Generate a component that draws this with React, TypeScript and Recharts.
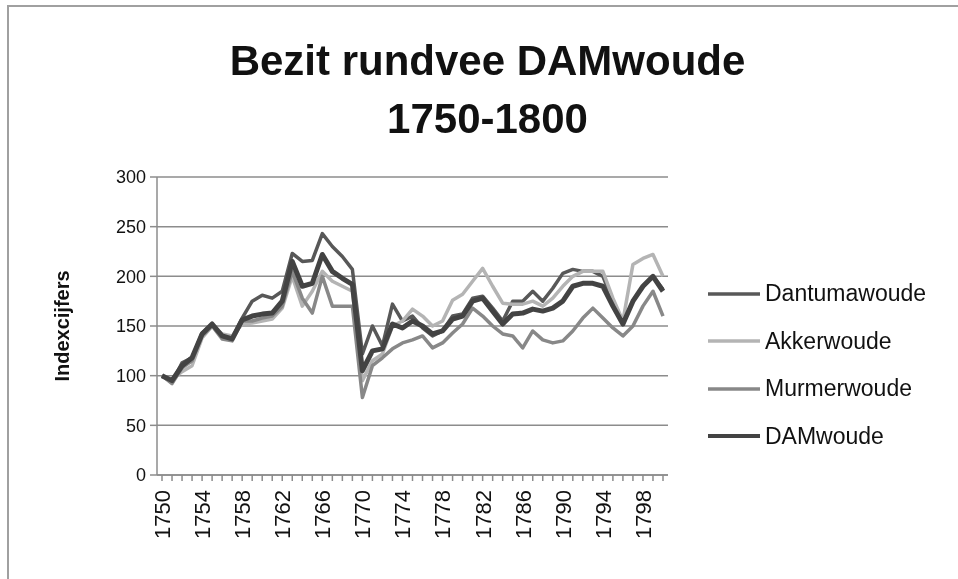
import React from 'react';
import { LineChart, Line, XAxis, YAxis, CartesianGrid, Legend } from 'recharts';

const years = [
  '1750','1751','1752','1753','1754','1755','1756','1757','1758','1759',
  '1760','1761','1762','1763','1764','1765','1766','1767','1768','1769',
  '1770','1771','1772','1773','1774','1775','1776','1777','1778','1779',
  '1780','1781','1782','1783','1784','1785','1786','1787','1788','1789',
  '1790','1791','1792','1793','1794','1795','1796','1797','1798','1799','1800',
];

const dantumawoude = [
  100, 93, 113, 118, 143, 152, 140, 138, 158, 175,
  181, 178, 185, 223, 215, 216, 243, 230, 220, 207,
  122, 150, 130, 172, 155, 160, 148, 140, 145, 160,
  162, 178, 180, 168, 155, 175, 175, 185, 175, 188,
  203, 207, 205, 205, 200, 175, 152, 175, 190, 200, 187,
];

const akkerwoude = [
  100, 96, 104, 110, 138, 150, 142, 140, 152, 153,
  155, 157, 168, 200, 170, 185, 205, 195, 190, 185,
  95, 115, 122, 150, 155, 167, 160, 150, 155, 176,
  182, 195, 208, 190, 173, 172, 172, 175, 170, 178,
  190, 200, 205, 205, 205, 178, 155, 212, 218, 222, 200,
];

const murmerwoude = [
  100, 92, 108, 115, 140, 150, 137, 135, 155, 155,
  158, 160, 170, 205, 178, 163, 200, 170, 170, 170,
  78, 110, 118, 127, 133, 136, 140, 128, 133, 143,
  152, 168, 160, 150, 142, 140, 128, 145, 136, 133,
  135, 145, 158, 168, 158, 148, 140, 150, 170, 185, 160,
];

const damwoude = [
  100, 95, 110, 118, 142, 152, 140, 137, 156, 160,
  162, 163, 175, 215, 190, 193, 222, 205, 198, 192,
  105, 125, 127, 152, 148, 155, 150, 142, 145, 157,
  160, 175, 178, 165, 152, 162, 163, 167, 165, 168,
  175, 190, 193, 193, 190, 170, 152, 175, 190, 200, 185,
];

const yTicks = [0, 50, 100, 150, 200, 250, 300];

const seriesInfo = [
  { key: 'Dantumawoude', color: '#585858', width: 3.5 },
  { key: 'Akkerwoude', color: '#b4b4b4', width: 3.5 },
  { key: 'Murmerwoude', color: '#888888', width: 3.5 },
  { key: 'DAMwoude', color: '#434343', width: 5 },
];

const data = years.map((y, i) => ({
  year: y,
  Dantumawoude: dantumawoude[i],
  Akkerwoude: akkerwoude[i],
  Murmerwoude: murmerwoude[i],
  DAMwoude: damwoude[i],
}));

const FONT = '"Liberation Sans", Arial, sans-serif';

const XTick = (props: any) => {
  const { x, y, index, payload } = props;
  if (index % 4 !== 0) return <g />;
  return (
    <text
      x={x}
      y={y}
      transform={`rotate(-90, ${x}, ${y})`}
      textAnchor="end"
      dy="0.36em"
      fontSize={22}
      fontFamily={FONT}
      fill="#111"
    >
      {payload.value}
    </text>
  );
};

const LegendContent = () => (
  <div style={{ fontFamily: FONT, fontSize: 23, color: '#111' }}>
    {seriesInfo.map((s) => (
      <div key={s.key} style={{ display: 'flex', alignItems: 'center', height: 47.5 }}>
        <svg width={52} height={8} style={{ marginRight: 5 }}>
          <line x1={0} y1={4} x2={52} y2={4} stroke={s.color} strokeWidth={Math.min(s.width, 4)} />
        </svg>
        <span>{s.key}</span>
      </div>
    ))}
  </div>
);

export default function App() {
  return (
    <div style={{ position: 'relative', width: 950, height: 571, fontFamily: FONT }}>
      <div
        style={{
          position: 'fixed',
          left: 7,
          top: 5,
          width: 960,
          height: 600,
          borderTop: '2px solid #a0a0a0',
          borderLeft: '2px solid #a0a0a0',
          boxSizing: 'border-box',
        }}
      />
      <div
        style={{
          position: 'absolute',
          left: 0,
          width: 959,
          top: 24,
          textAlign: 'center',
          fontWeight: 'bold',
          fontSize: 42,
          lineHeight: '58px',
          color: '#111',
        }}
      >
        <div>Bezit rundvee DAMwoude</div>
        <div>1750-1800</div>
      </div>
      <div
        style={{
          position: 'absolute',
          left: 54 - 70,
          top: 318 - 13,
          width: 140,
          height: 26,
          lineHeight: '26px',
          textAlign: 'center',
          fontWeight: 'bold',
          fontSize: 20,
          color: '#111',
          transform: 'rotate(-90deg)',
        }}
      >
        Indexcijfers
      </div>
      <LineChart
        width={950}
        height={571}
        data={data}
        margin={{ top: 169, right: 290, bottom: 0, left: 0 }}
        style={{ position: 'absolute', left: 0, top: 0 }}
      >
        <CartesianGrid vertical={false} stroke="#8c8c8c" strokeWidth={1.5} />
        <XAxis
          dataKey="year"
          interval={0}
          height={104}
          padding={{ left: 5, right: 5 }}
          tick={<XTick />}
          tickSize={6}
          tickMargin={9}
          stroke="#8c8c8c"
          strokeWidth={1.5}
        />
        <YAxis
          width={149}
          domain={[0, 300]}
          ticks={yTicks}
          tickSize={7}
          tickMargin={4}
          stroke="#8c8c8c"
          strokeWidth={1.5}
          tick={{ fill: '#111', fontSize: 18, fontFamily: FONT }}
        />
        {seriesInfo.map((s) => (
          <Line
            key={s.key}
            dataKey={s.key}
            stroke={s.color}
            strokeWidth={s.width}
            dot={false}
            activeDot={false}
            isAnimationActive={false}
            strokeLinejoin="round"
          />
        ))}
        <Legend
          layout="horizontal"
          verticalAlign="middle"
          align="center"
          content={<LegendContent />}
          wrapperStyle={{ left: 700, top: 262, width: 250 }}
        />
      </LineChart>
    </div>
  );
}
